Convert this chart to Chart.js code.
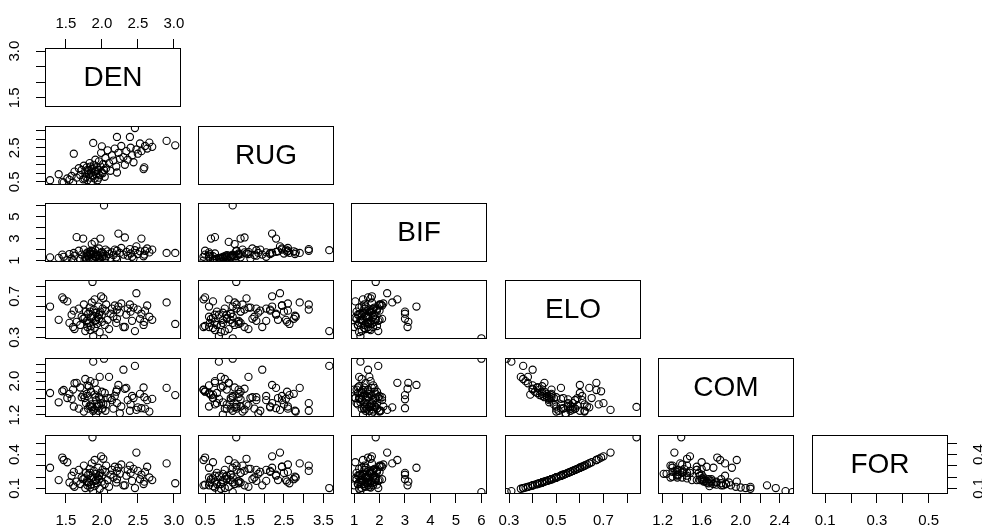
<!DOCTYPE html>
<html>
<head>
<meta charset="utf-8">
<script src="https://cdn.jsdelivr.net/npm/chart.js@4.4.0/dist/chart.umd.min.js"></script>
<style>
  html, body { margin: 0; padding: 0; background: #fff; width: 982px; height: 531px; overflow: hidden; }
  #wrap { position: relative; width: 982px; height: 531px; }
  canvas { position: absolute; }
</style>
</head>
<body>
<div id="wrap"></div>
<script>
// variable names shown on the diagonal
const varNames = ['DEN', 'RUG', 'BIF', 'ELO', 'COM', 'FOR'];

const den = [1.28,1.40,1.45,1.47,1.52,1.55,1.58,1.60,1.61,1.62,
  1.65,1.68,1.70,1.72,1.74,1.75,1.77,1.78,1.79,1.80,
  1.81,1.82,1.83,1.84,1.85,1.85,1.86,1.87,1.88,1.88,
  1.89,1.90,1.90,1.91,1.92,1.93,1.94,1.95,1.96,1.97,
  1.98,1.99,2.00,2.00,2.02,2.03,2.04,2.05,2.06,2.08,
  2.10,2.12,2.14,2.16,2.18,2.20,2.21,2.21,2.23,2.25,
  2.27,2.30,2.32,2.34,2.36,2.39,2.40,2.42,2.44,2.46,
  2.48,2.50,2.53,2.55,2.58,2.59,2.60,2.63,2.66,2.70,
  2.90,3.02,1.76,1.84,1.92,1.96,2.01,1.80];
const rug = [0.60,0.95,0.50,0.46,0.70,0.62,0.85,0.46,2.15,1.10,
  0.75,1.30,0.90,1.20,0.65,1.45,1.00,0.80,1.35,0.60,
  1.15,0.95,1.60,0.75,1.05,0.50,1.25,1.29,2.78,0.85,
  1.50,0.70,1.10,1.80,0.95,1.35,0.60,1.20,1.70,0.90,
  1.40,2.20,2.58,1.05,1.55,1.20,0.80,1.90,1.30,2.35,
  1.60,1.15,2.05,1.75,2.45,1.40,3.13,1.05,2.20,1.85,
  2.60,1.95,1.50,2.30,1.80,3.13,2.50,2.05,1.65,3.65,
  2.40,2.15,2.75,2.30,1.25,1.35,2.60,2.45,2.80,2.55,
  2.90,2.64,0.70,1.40,1.15,0.75,1.00,1.20];
const bif = [1.30,1.25,1.55,1.35,1.05,1.60,1.20,1.00,1.70,1.45,
  3.13,1.90,1.15,1.55,3.00,2.00,1.30,1.10,1.65,1.75,
  1.40,1.20,1.80,1.65,1.50,1.90,2.50,1.85,1.60,1.25,
  1.75,1.40,2.70,1.95,1.35,1.55,1.45,1.45,2.10,1.20,
  3.00,1.70,1.80,1.30,1.65,6.00,1.15,2.00,1.40,1.85,
  1.60,1.25,1.75,1.50,2.00,1.30,1.90,1.10,3.45,1.70,
  2.15,1.55,3.10,1.80,1.45,2.05,1.65,1.35,1.20,1.95,
  2.30,1.60,1.85,3.00,1.40,1.55,1.90,2.10,1.75,2.00,
  1.70,1.70,1.05,1.60,1.30,1.15,1.40,1.50];
const elo = [0.60,0.47,0.69,0.67,0.65,0.44,0.52,0.40,0.56,0.38,
  0.45,0.58,0.42,0.50,0.48,0.62,0.36,0.55,0.46,0.40,
  0.53,0.44,0.59,0.37,0.49,0.41,0.64,0.84,0.51,0.31,
  0.57,0.39,0.67,0.46,0.54,0.43,0.50,0.60,0.48,0.35,
  0.55,0.70,0.45,0.52,0.68,0.29,0.42,0.56,0.62,0.47,
  0.38,0.53,0.58,0.50,0.61,0.44,0.57,0.48,0.60,0.54,
  0.63,0.40,0.40,0.52,0.58,0.62,0.55,0.46,0.59,0.36,
  0.73,0.57,0.48,0.53,0.42,0.45,0.56,0.61,0.50,0.47,
  0.64,0.43,0.49,0.55,0.47,0.52,0.58,0.44];
const com = [1.72,1.50,1.76,1.79,1.60,1.70,1.58,1.80,1.40,1.95,
  1.96,1.35,1.85,1.62,1.67,1.28,2.05,1.48,1.70,1.90,
  1.35,1.88,1.42,2.00,1.45,1.75,1.38,1.39,1.30,2.46,
  1.33,1.68,1.96,1.62,1.21,1.80,1.40,1.30,1.62,2.10,
  1.57,1.48,1.75,1.35,1.45,2.53,1.72,1.30,1.45,1.60,
  2.10,1.60,1.55,1.35,1.65,1.75,1.48,1.80,1.91,1.24,
  1.40,2.27,1.82,1.84,1.55,1.30,1.45,1.65,1.60,2.36,
  1.32,1.38,1.70,1.36,1.85,1.62,1.35,1.55,1.28,1.58,
  1.84,1.67,1.60,1.40,1.55,1.45,1.35,1.65];
const forest = [0.283,0.173,0.374,0.352,0.332,0.152,0.212,0.126,0.246,0.113,
  0.159,0.264,0.138,0.196,0.181,0.302,0.102,0.237,0.166,0.126,
  0.221,0.152,0.273,0.107,0.188,0.132,0.322,0.554,0.204,0.075,
  0.255,0.119,0.352,0.166,0.229,0.145,0.196,0.283,0.181,0.096,
  0.237,0.385,0.159,0.212,0.363,0.066,0.138,0.246,0.302,0.173,
  0.113,0.221,0.264,0.196,0.292,0.152,0.255,0.181,0.283,0.229,
  0.312,0.126,0.126,0.212,0.264,0.302,0.237,0.166,0.273,0.102,
  0.418,0.255,0.181,0.221,0.138,0.159,0.246,0.292,0.196,0.173,
  0.322,0.145,0.188,0.237,0.173,0.212,0.264,0.152];

const vars = [den, rug, bif, elo, com, forest];

// axis limits and ticks per variable
const axisMin = [1.21, 0.32, 0.88, 0.283, 1.152, 0.049];
const axisMax = [3.10, 3.77, 6.22, 0.859, 2.547, 0.575];
const tickValues = [
  [1.5, 2, 2.5, 3],
  [0.5, 1, 1.5, 2, 2.5, 3, 3.5],
  [1, 2, 3, 4, 5, 6],
  [0.3, 0.4, 0.5, 0.6, 0.7, 0.8],
  [1.2, 1.4, 1.6, 1.8, 2, 2.2, 2.4],
  [0.1, 0.2, 0.3, 0.4, 0.5]
];
const xLabelled = [
  [1.5, 2, 2.5, 3],
  [0.5, 1.5, 2.5, 3.5],
  [1, 2, 3, 4, 5, 6],
  [0.3, 0.5, 0.7],
  [1.2, 1.6, 2, 2.4],
  [0.1, 0.3, 0.5]
];
const yLabelled = [[1.5, 3], [0.5, 2.5], [1, 3, 5], [0.3, 0.7], [1.2, 2], [0.1, 0.4]];
const decimals = [1, 1, 0, 1, 1, 1];

// panel grid
const boxX = [45, 198, 351, 505, 658, 812];
const boxY = [48, 126, 203, 280, 358, 435];
const boxW = 136, boxH = 59;
const PAD = 14, X_AXIS = 40, Y_AXIS = 31;
const FONT = '"Liberation Sans", Arial, sans-serif';

const fmt = (v, k) => v.toFixed(decimals[k]);

const panelPlugin = {
  id: 'panel',
  afterDraw(chart, args, opts) {
    const ctx = chart.ctx;
    const a = chart.chartArea;
    ctx.save();
    ctx.strokeStyle = '#000';
    ctx.lineWidth = 1;
    ctx.strokeRect(a.left + 0.5, a.top + 0.5, a.right - a.left - 1, a.bottom - a.top - 1);
    ctx.fillStyle = '#000';
    if (opts.name) {
      ctx.font = '28px ' + FONT;
      ctx.textAlign = 'center';
      ctx.textBaseline = 'middle';
      ctx.fillText(opts.name, (a.left + a.right) / 2, (a.top + a.bottom) / 2 + 1);
    }
    const ys = chart.scales.y;
    if (ys.options.display) {
      // R style: y labels turned to read bottom-to-top
      ctx.font = '15px ' + FONT;
      ctx.textAlign = 'center';
      ctx.textBaseline = 'middle';
      yLabelled[opts.row].forEach(v => {
        const py = ys.getPixelForValue(v);
        const px = ys.position === 'left' ? a.left - 30 : a.right + 31;
        ctx.save();
        ctx.translate(px, py);
        ctx.rotate(-Math.PI / 2);
        ctx.fillText(fmt(v, opts.row), 0, 0);
        ctx.restore();
      });
    }
    ctx.restore();
  }
};

function fixedTicks(k) {
  return scale => { scale.ticks = tickValues[k].map(value => ({ value })); };
}

function makePanel(r, c) {
  const hasTop = r === 0 && c === 0;
  const hasBottom = r === 5;
  const hasLeft = c === 0;
  const hasRight = r === 5 && c === 5;
  const showX = hasTop || hasBottom;
  const showY = hasLeft || hasRight;

  const left = boxX[c] - PAD - (hasLeft ? Y_AXIS : 0);
  const top = boxY[r] - PAD - (hasTop ? X_AXIS : 0);
  const width = boxW + 2 * PAD + (hasLeft ? Y_AXIS : 0) + (hasRight ? Y_AXIS : 0);
  const height = boxH + 2 * PAD + (hasTop ? X_AXIS : 0) + (hasBottom ? X_AXIS : 0);

  const canvas = document.createElement('canvas');
  canvas.width = width;
  canvas.height = height;
  canvas.style.left = left + 'px';
  canvas.style.top = top + 'px';
  canvas.style.width = width + 'px';
  canvas.style.height = height + 'px';
  document.getElementById('wrap').appendChild(canvas);

  const points = r === c ? [] : vars[c].map((x, i) => ({ x, y: vars[r][i] }));

  new Chart(canvas.getContext('2d'), {
    type: 'scatter',
    data: {
      datasets: [{
        data: points,
        pointRadius: 3.6,
        pointBorderWidth: 1.1,
        pointBorderColor: '#000',
        pointBackgroundColor: 'rgba(0,0,0,0)',
        pointHoverRadius: 3.6
      }]
    },
    options: {
      responsive: false,
      maintainAspectRatio: false,
      animation: false,
      events: [],
      layout: { padding: PAD },
      plugins: {
        legend: { display: false },
        tooltip: { enabled: false },
        panel: { name: r === c ? varNames[r] : '', row: r }
      },
      scales: {
        x: {
          type: 'linear',
          min: axisMin[c],
          max: axisMax[c],
          display: showX,
          position: hasTop ? 'top' : 'bottom',
          afterBuildTicks: fixedTicks(c),
          afterFit: s => {
            if (showX) s.height = X_AXIS;
            s.paddingLeft = 0;
            s.paddingRight = 0;
          },
          grid: { drawOnChartArea: false, drawTicks: true, tickLength: 9, color: '#000', lineWidth: 1 },
          border: { display: false },
          ticks: {
            autoSkip: false,
            maxRotation: 0,
            minRotation: 0,
            padding: hasTop ? 6 : 9,
            color: '#000',
            font: { family: FONT, size: 15 },
            callback: v => xLabelled[c].includes(v) ? fmt(v, c) : ''
          }
        },
        y: {
          type: 'linear',
          min: axisMin[r],
          max: axisMax[r],
          display: showY,
          position: hasRight ? 'right' : 'left',
          afterBuildTicks: fixedTicks(r),
          afterFit: s => {
            if (showY) s.width = Y_AXIS;
            s.paddingTop = 0;
            s.paddingBottom = 0;
          },
          grid: { drawOnChartArea: false, drawTicks: true, tickLength: 9, color: '#000', lineWidth: 1 },
          border: { display: false },
          ticks: { display: false }
        }
      }
    },
    plugins: [panelPlugin]
  });
}

for (let r = 0; r < 6; r++) {
  for (let c = 0; c <= r; c++) {
    makePanel(r, c);
  }
}
</script>
</body>
</html>
